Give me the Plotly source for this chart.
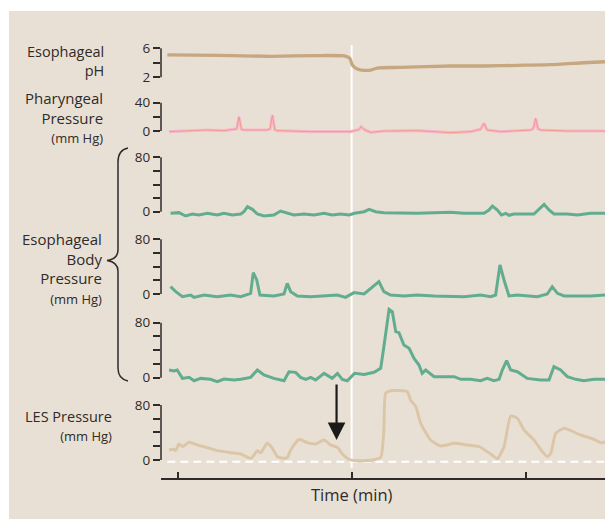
import plotly.graph_objects as go

# ---------------- data (time in seconds; tick marks at 0, 60, 120 s) ----------------
ph_t = [-3.5, 13.7, 32.1, 48.2, 57.4, 59.4, 60.2, 62.0, 64.3, 66.5, 68.8, 76.9, 94.1, 105.6, 117.1, 128.6, 140.0, 147.5]
ph_v = [5.08, 5.03, 4.9, 5.0, 4.95, 4.62, 3.7, 3.14, 2.96, 2.99, 3.28, 3.37, 3.56, 3.56, 3.65, 3.74, 4.01, 4.15]

phar_t = [-2.9, 10.3, 16.0, 19.5, 20.4, 21.2, 22.0, 22.9, 30.9, 31.9, 32.7, 33.5, 34.4, 45.9, 59.7, 62.5, 63.3, 64.3,
          66.5, 71.1, 82.6, 94.1, 101.0, 104.4, 105.6, 106.7, 111.3, 121.7, 122.6, 123.4, 124.2, 125.1, 134.3, 147.5]
phar_v = [-0.9, 1.4, 0.5, 2.4, 3.0, 20.2, 2.5, 1.4, 1.4, 3.0, 22.6, 2.0, 0.5, -0.9, -0.9, 2.0, 6.1, 2.0,
          -1.9, 0.0, 0.5, -2.4, -0.9, 2.4, 10.8, 1.4, -0.9, 1.4, 3.5, 17.9, 3.0, 1.4, 0.0, 0.0]

body1_t = [-2.4, 0.5, 2.8, 5.1, 7.4, 10.3, 13.7, 16.0, 18.9, 21.8, 22.9, 24.1, 25.8, 27.5, 29.8, 33.2, 35.5, 37.8,
           40.1, 43.6, 47.0, 50.5, 53.3, 56.2, 59.1, 61.0, 64.3, 66.0, 68.3, 71.1, 82.6, 94.1, 98.7, 105.6, 107.3,
           108.5, 110.2, 111.6, 113.1, 114.2, 115.9, 122.8, 125.1, 126.3, 128.0, 129.7, 134.3, 137.8, 142.3, 147.5]
body1_v = [-2.4, -1.4, -6.3, -3.4, -4.9, -2.4, -4.9, -2.4, -4.9, -3.4, 0.0, 7.4, 3.5, -3.4, -6.3, -4.9, 1.0, -2.4,
           -4.9, -3.4, -4.9, -2.4, -4.9, -3.4, -4.9, -2.4, 0.0, 3.5, 0.0, -1.4, -2.4, -0.9, -2.4, -2.4, 2.5,
           8.4, 2.5, -4.9, -2.4, -5.3, -3.4, -3.4, 5.0, 10.8, 2.5, -3.4, -3.4, -4.9, -2.4, -2.4]

body2_t = [-2.4, -0.6, 1.7, 4.5, 5.7, 9.1, 13.7, 18.3, 21.8, 25.2, 26.1, 27.3, 28.4, 33.2, 36.7, 37.8, 39.0, 41.3,
           45.9, 50.5, 55.1, 57.9, 60.8, 64.3, 66.5, 69.4, 71.1, 73.4, 78.0, 82.6, 88.4, 94.1, 98.7, 104.4, 107.9,
           109.6, 111.1, 112.5, 114.2, 117.1, 124.0, 127.4, 129.1, 130.9, 133.2, 137.8, 142.3, 147.5]
body2_v = [10.7, 3.4, -3.9, -1.5, -4.9, -1.5, -3.9, -1.5, -3.9, 1.0, 31.2, 20.5, -1.5, -2.9, 0.0, 15.6, 3.4, -2.9,
           -3.9, -2.9, -1.5, -4.9, 2.0, 0.0, 8.3, 18.0, 3.4, -1.5, -2.9, -1.5, -2.9, -2.9, -3.9, -1.5, -3.9,
           -1.5, 42.4, 20.5, -2.9, -1.5, -3.9, 0.0, 10.7, 1.0, -2.9, -2.9, -2.9, -1.5]

body3_t = [-2.9, -1.2, -0.1, 1.7, 4.0, 5.7, 8.0, 11.4, 13.7, 16.0, 19.5, 21.8, 25.2, 27.5, 29.8, 33.2, 36.7, 38.4,
           40.7, 42.4, 44.2, 45.9, 47.6, 50.5, 53.3, 55.1, 56.8, 58.5, 61.0, 64.3, 67.7, 70.0, 71.1, 72.9, 74.0,
           75.2, 76.3, 78.0, 79.8, 81.5, 83.2, 84.3, 85.5, 88.4, 91.8, 95.3, 97.6, 101.0, 104.4, 106.7, 109.0,
           110.8, 111.9, 113.4, 114.8, 117.1, 120.5, 125.1, 128.0, 129.7, 132.0, 134.3, 137.2, 140.0, 143.5, 147.5]
body3_v = [11.2, 9.7, 11.2, -1.0, 0.5, -4.4, -1.0, -2.4, -5.8, -1.9, -3.4, -2.4, 0.5, 11.2, 3.9, -1.0, -4.4, 8.7,
           7.8, 0.5, -2.4, 0.5, -3.4, 6.3, -1.0, 6.3, -2.4, -4.4, 6.3, 4.8, 7.8, 13.6, 45.1, 99.4, 96.0,
           66.9, 65.5, 47.5, 42.7, 28.1, 18.4, 6.3, 11.2, 1.5, 1.5, 1.5, -2.4, -2.4, -4.4, -1.0, -4.4,
           -2.4, 11.2, 24.7, 11.2, 8.7, -1.0, -3.4, -3.4, 16.0, 11.2, 1.5, -2.4, -4.4, -2.4, -2.4]

les_t = [-2.9, -1.2, -0.6, 0.5, 1.7, 4.0, 6.8, 10.3, 13.7, 18.3, 21.8, 24.1, 25.4, 26.4, 27.5, 28.7, 30.9, 32.7,
         34.4, 36.7, 37.8, 39.0, 41.9, 44.7, 47.6, 50.5, 52.8, 55.1, 56.8, 59.1, 61.4, 64.3, 67.1, 70.0, 71.1,
         71.7, 73.4, 79.2, 80.3, 82.1, 83.8, 87.2, 90.7, 95.3, 99.9, 103.9, 107.9, 110.2, 112.5, 114.8, 117.1,
         119.4, 122.8, 125.7, 127.4, 128.6, 130.3, 133.2, 135.5, 138.9, 143.5, 145.8, 147.5]
les_v = [14.5, 15.5, 13.6, 23.3, 19.4, 25.7, 21.8, 17.9, 13.6, 10.7, 8.7, 3.9, 2.4, 7.3, 13.6, 10.7, 24.2, 17.0,
         4.8, 2.4, 3.4, 14.5, 30.1, 25.2, 23.3, 29.1, 21.8, 18.4, 8.7, 1.0, -1.0, -1.0, 0.0, 3.9, 43.6,
         97.0, 100.8, 99.4, 87.3, 77.6, 53.3, 29.1, 20.4, 24.2, 21.8, 19.4, 8.7, 1.9, 19.4, 64.0, 60.6,
         43.6, 29.1, 12.1, 4.8, 9.7, 38.8, 46.1, 42.7, 36.4, 30.1, 25.2, 26.2]

reflux_t = 60          # white vertical marker (s)
arrow_t, arrow_v = 54.8, 29   # arrow tip on the LES panel
les_floor = -2.5       # dashed reference line
time_ticks = [0, 60, 120]

# ---------------- layout helpers ----------------
W, H = 605, 519
X0 = 161  # left edge of plotting area (px)
PX_PER_S = 2.9025
T0_PX = 177.5

def fx(px):
    return px / W

def fy(py):
    return 1 - py / H

def domain(py_base, base_val, ppu, lo, hi):
    def py(v):
        return py_base - ppu * (v - base_val)
    return [fy(py(lo)), fy(py(hi))]

INK = "#2e2b28"
FONT = "Open Sans"

fig = go.Figure()

traces = [
    (ph_t, ph_v, "y", "#C7A77F", 3.3, "spline"),
    (phar_t, phar_v, "y2", "#F8BACB", 3.2, "linear"),
    (phar_t, phar_v, "y2", "#F09A8C", 1, "linear"),
    (body1_t, body1_v, "y3", "#62AC90", 3, "linear"),
    (body2_t, body2_v, "y4", "#62AC90", 3, "linear"),
    (body3_t, body3_v, "y5", "#62AC90", 3, "linear"),
    (les_t, les_v, "y6", "#DCC6A8", 3, "spline"),
]
for t, v, ya, col, w, shp in traces:
    line = dict(color=col, width=w, shape=shp)
    if shp == "spline":
        line["smoothing"] = 0.5
    fig.add_trace(go.Scatter(x=t, y=v, mode="lines", yaxis=ya, xaxis="x",
                             line=line, hoverinfo="skip", showlegend=False))

def yax(dom, rng, tv, tt):
    return dict(domain=dom, range=rng, anchor="x", tickvals=tv, ticktext=tt,
                ticks="outside", ticklen=7, tickwidth=1.5, tickcolor=INK,
                showline=False, showgrid=False, zeroline=False, automargin=False,
                tickfont=dict(family=FONT, size=13.5, color=INK), fixedrange=True)

panels = {
    "yaxis":  (domain(77.3, 2, 7.25, 1.6, 6.4), [1.6, 6.4], [2, 4, 6], ["2", "", "6"]),
    "yaxis2": (domain(131, 0, 0.7075, -6, 44), [-6, 44], [0, 20, 40], ["0", "", "40"]),
    "yaxis3": (domain(211.7, 0, 0.68, -9, 86), [-9, 86], [0, 20, 40, 60, 80], ["0", "", "", "", "80"]),
    "yaxis4": (domain(294, 0, 0.684, -9, 86), [-9, 86], [0, 20, 40, 60, 80], ["0", "", "", "", "80"]),
    "yaxis5": (domain(377.7, 0, 0.6875, -9, 106), [-9, 106], [0, 20, 40, 60, 80], ["0", "", "", "", "80"]),
    "yaxis6": (domain(460, 0, 0.6875, -6, 106), [-6, 106], [0, 20, 40, 60, 80], ["0", "", "", "", "80"]),
}
lay = {}
for k, (d, r, tv, tt) in panels.items():
    lay[k] = yax(d, r, tv, tt)

shapes = [
    dict(type="rect", xref="paper", yref="paper", x0=fx(9), x1=1, y0=0, y1=fy(11),
         fillcolor="#E9E0D5", line=dict(width=0), layer="below"),
]
# vertical axis lines (bracket style) from lowest to highest tick
spans = [("y", 2, 6), ("y2", 0, 40), ("y3", 0, 80), ("y4", 0, 80), ("y5", 0, 80), ("y6", 0, 80)]
for ya, a, b in spans:
    shapes.append(dict(type="line", xref="paper", yref=ya, x0=fx(X0), x1=fx(X0), y0=a, y1=b,
                       line=dict(color=INK, width=1.5)))
# reflux marker
shapes.append(dict(type="line", xref="x", yref="paper", x0=reflux_t, x1=reflux_t,
                   y0=fy(468), y1=fy(45), line=dict(color="white", width=2), layer="below"))
# LES dashed floor
shapes.append(dict(type="line", xref="x", yref="y6", x0=-3.5, x1=147.5, y0=les_floor, y1=les_floor,
                   line=dict(color="white", width=2, dash="8px,5px"), layer="below"))
# curly brace for esophageal body
def P(px, py):
    return f"{fx(px):.5f},{fy(py):.5f}"
brace = (f"M {P(128,148)} Q {P(118,150)} {P(118,162)} L {P(118,250)} Q {P(118,259)} {P(107,260.5)} "
         f"Q {P(118,262)} {P(118,271)} L {P(118,368)} Q {P(118,379)} {P(128,381)}")
shapes.append(dict(type="path", xref="paper", yref="paper", path=brace,
                   line=dict(color=INK, width=1.5)))

SMALL = "<span style='font-size:13px'>(mm Hg)</span>"

def lab(text, rx, cy, size=15):
    return dict(text=text, xref="paper", yref="paper", x=fx(rx), y=fy(cy), xanchor="right",
                yanchor="middle", align="right", showarrow=False,
                font=dict(family=FONT, size=size, color=INK))

annotations = [
    lab("Esophageal<br>pH", 106, 61.2, 14.5),
    lab("Pharyngeal<br>Pressure<br>" + SMALL, 105, 117.3),
    lab("Esophageal<br>Body<br>Pressure<br>" + SMALL, 103.5, 269),
    lab("LES Pressure<br>" + SMALL, 113.5, 426, 14.5),
    dict(text="Time (min)", xref="x", yref="paper", x=60, y=fy(494), xanchor="center", yanchor="middle",
         showarrow=False, font=dict(family=FONT, size=16.5, color=INK)),
    dict(text="", xref="x", yref="y6", x=arrow_t, y=arrow_v, ax=0, ay=-57, axref="pixel", ayref="pixel",
         showarrow=True, arrowhead=2, arrowsize=1.6, arrowwidth=2.2, arrowcolor="#1c1a18", standoff=0),
]

fig.update_layout(
    width=W, height=H, margin=dict(l=0, r=0, t=0, b=0),
    paper_bgcolor="white", plot_bgcolor="rgba(0,0,0,0)",
    showlegend=False,
    xaxis=dict(domain=[fx(X0), 1], range=[(X0 - T0_PX) / PX_PER_S, (W - T0_PX) / PX_PER_S],
               anchor="free", position=fy(479), showline=True, linecolor=INK, linewidth=2,
               ticks="inside", ticklen=6, tickwidth=1.5, tickcolor=INK, tickvals=time_ticks,
               showticklabels=False, showgrid=False, zeroline=False, fixedrange=True, automargin=False),
    shapes=shapes, annotations=annotations,
    **lay,
)

fig.write_html(
    "out.html",
    config={"displayModeBar": False},
    post_script="document.body.style.margin='0';"
                "document.documentElement.style.overflow='hidden';"
                "document.body.style.overflow='hidden';",
)
